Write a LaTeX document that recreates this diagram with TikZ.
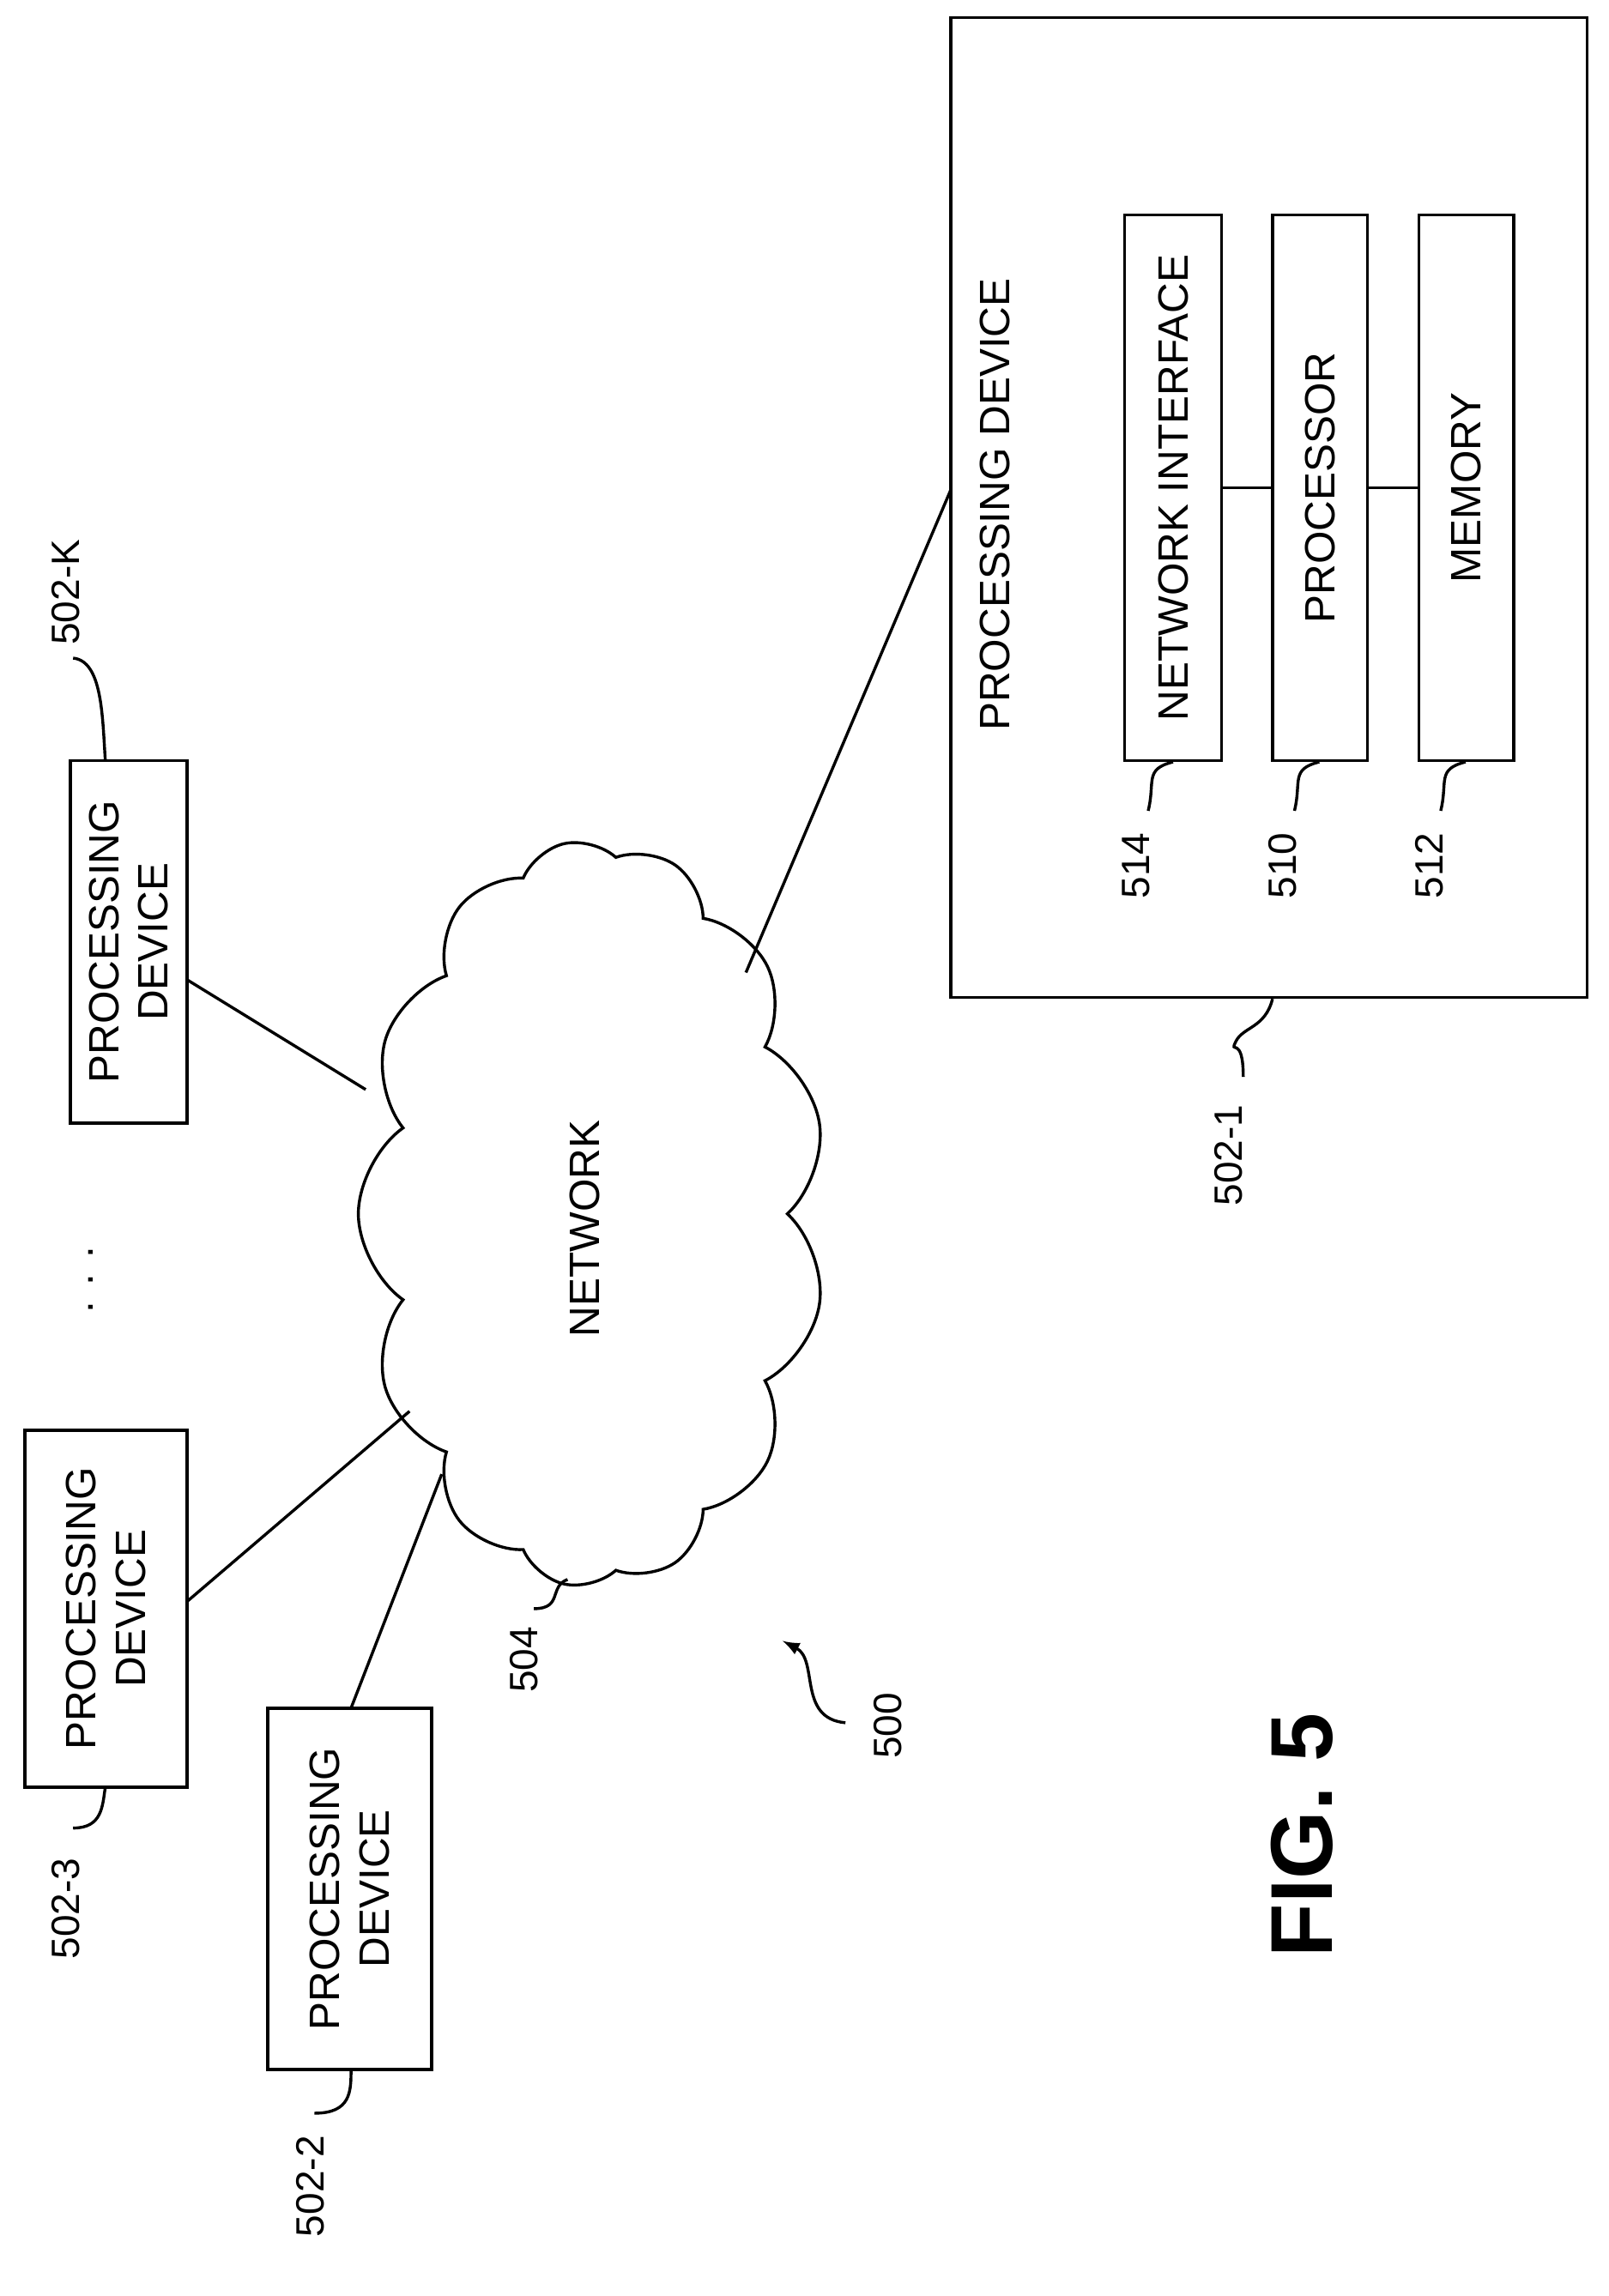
\documentclass[tikz,border=0pt]{standalone}
\usepackage{fontspec}
\setmainfont{Liberation Sans}
\usetikzlibrary{shapes.symbols}
\begin{document}
\begin{tikzpicture}[x=0.5pt,y=-0.5pt,
  txt/.style={font=\fontsize{14.5}{17}\selectfont,rotate=90,align=center},
  box/.style={draw,line width=1pt,rotate=90,inner sep=0pt,font=\fontsize{14.5}{17}\selectfont,align=center},
  ln/.style={line width=1pt},
  lab/.style={font=\fontsize{13.5}{16}\selectfont,rotate=90}]
\useasboundingbox (0,0) rectangle (1100,1570);
% big device
\node[box,minimum width=335pt,minimum height=217.5pt] (d1) at (867.5,347) {};
\node[txt] (pdt) at (680,345) {PROCESSING DEVICE};
\node[box,minimum width=186.5pt,minimum height=33pt] (ni) at (802,333.5) {NETWORK INTERFACE};
\node[box,minimum width=186.5pt,minimum height=32.5pt] (pr) at (902.5,333.5) {PROCESSOR};
\node[box,minimum width=186.5pt,minimum height=32.5pt] (me) at (1002.5,333.5) {MEMORY};
\draw[ln] (ni.south) -- (pr.north);
\draw[ln] (pr.south) -- (me.north);
% labels inner
\node[lab] (l514) at (777,592) {514};
\node[lab] (l510) at (877,592) {510};
\node[lab] (l512) at (977,592) {512};
\foreach \n/\x in {l514/802,l510/902,l512/1002}{
  \coordinate (t\n) at (\x,521);
  \draw[ln] (\n.east) ++(8,-8) .. controls +(5,-20) and +(-20,5) .. (t\n);
}
% 502-1 label
\node[lab] (l1) at (840,790) {502-1};
\coordinate (t1) at (870,683);
\draw[ln] (l1.east) ++(10,-12) .. controls +(0,-30) and +(-5,10) .. (845,712) .. controls +(5,-10) and +(-5,20) .. (t1);
% small devices
\node[box,minimum width=124pt,minimum height=40pt] (dk) at (88,644) {PROCESSING\\DEVICE};
\node[box,minimum width=122pt,minimum height=55.5pt] (d3) at (72.5,1100) {PROCESSING\\DEVICE};
\node[box,minimum width=123.5pt,minimum height=56pt] (d2) at (239,1291.5) {PROCESSING\\DEVICE};
\node[txt] (dots) at (62,875) {. . .};
\node[lab] (lk) at (45,405) {502-K};
\node[lab] (l3) at (45,1305) {502-3};
\node[lab] (l2) at (212,1495) {502-2};
\coordinate (tk) at (72,520);
\draw[ln] (50,450) .. controls (70,452) and (70,490) .. (tk);
\coordinate (t3) at (72,1222);
\draw[ln] (50,1250) .. controls (70,1250) and (70,1235) .. (t3);
\coordinate (t2) at (240,1415);
\draw[ln] (215,1445) .. controls (240,1445) and (240,1430) .. (t2);
% cloud
\node[draw,line width=1pt,cloud,cloud puffs=13,cloud puff arc=110,aspect=1.6,minimum width=255pt,minimum height=160pt,rotate=90] (cl) at (405,830) {};
\node[txt] (nw) at (400,840) {NETWORK};
\coordinate (ck) at (250,745);
\coordinate (c3) at (280,965);
\coordinate (c2) at (302,1008);
\coordinate (c1) at (510,665);
\coordinate (sk) at (128,670);
\coordinate (s3) at (128,1095);
\coordinate (s2) at (240,1168);
\coordinate (s1) at (650,335);
\draw[ln] (sk) -- (ck);
\draw[ln] (s3) -- (c3);
\draw[ln] (s2) -- (c2);
\draw[ln] (s1) -- (c1);
% 504
\node[lab] (l504) at (358,1135) {504};
\coordinate (c504) at (388,1080);
\draw[ln] (365,1100) .. controls (385,1100) and (375,1085) .. (c504);
% 500
\node[lab] (l500) at (607,1180) {500};
\coordinate (a500) at (535,1122);
\draw[ln,-latex] (578,1178) .. controls (545,1175) and (560,1135) .. (a500);
% fig
\node[rotate=90,font=\fontsize{30}{34}\bfseries\selectfont] (fig) at (890,1255) {FIG. 5};
\end{tikzpicture}
\end{document}
